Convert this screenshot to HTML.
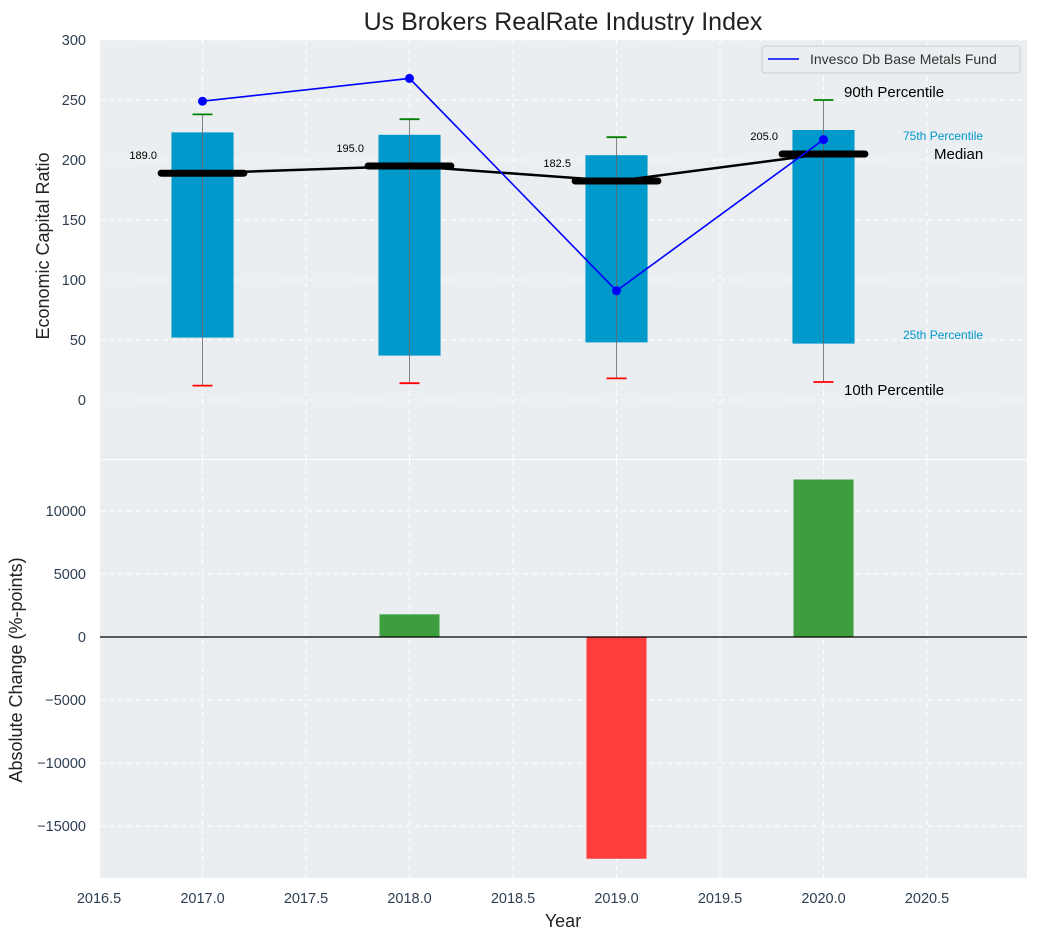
<!DOCTYPE html>
<html><head><meta charset="utf-8">
<style>
body{margin:0;background:#fff;font-family:"Liberation Sans",sans-serif;}
svg text{font-family:"Liberation Sans",sans-serif;}
</style></head>
<body>
<svg id="c" width="1038" height="940" xmlns="http://www.w3.org/2000/svg"></svg>
<script>
const years=[2017,2018,2019,2020];
const p10=[12,14,18,15];
const p25=[52,37,48,47];
const median=[189,195,182.5,205];
const p75=[223,221,204,225];
const p90=[238,234,219,250];
const fund=[249,268,91,217];
const changes=[0,1800,-17600,12500];
const xTicks=[2016.5,2017,2017.5,2018,2018.5,2019,2019.5,2020,2020.5];
const yTopTicks=[0,50,100,150,200,250,300];
const yBotTicks=[-15000,-10000,-5000,0,5000,10000];

const svg=document.getElementById('c');
const NS='http://www.w3.org/2000/svg';
function el(t,a,p){const e=document.createElementNS(NS,t);for(const k in a)e.setAttribute(k,a[k]);(p||svg).appendChild(e);return e;}
const L=100,R=1027,T1=40,B1=459,T2=460,B2=878;
const x=v=>202.5+(v-2017)*207;
const y1=v=>400-v*1.2;
const y2=v=>637-v*0.0126;
const BG='#eaeef0';

let p=el('rect',{x:L,y:T1,width:R-L,height:B1-T1,fill:BG});

p=el('rect',{x:L,y:T2,width:R-L,height:B2-T2,fill:BG});


xTicks.forEach(v=>{
 el('line',{x1:x(v),x2:x(v),y1:T1,y2:B1,stroke:'#fff','stroke-dasharray':'5,4','stroke-width':1});
 el('line',{x1:x(v),x2:x(v),y1:T2,y2:B2,stroke:'#fff','stroke-dasharray':'5,4','stroke-width':1});
 const t=el('text',{x:x(v),y:903,'text-anchor':'middle','font-size':14.5,fill:'#2d3e50'});t.textContent=v.toFixed(1);
 
});
yTopTicks.forEach(v=>{
 el('line',{x1:L,x2:R,y1:y1(v),y2:y1(v),stroke:'#fff','stroke-dasharray':'5,4','stroke-width':1});
 const t=el('text',{x:86,y:y1(v)+5,'text-anchor':'end','font-size':14.5,fill:'#2d3e50'});t.textContent=v;
 
});
yBotTicks.forEach(v=>{
 el('line',{x1:L,x2:R,y1:y2(v),y2:y2(v),stroke:'#fff','stroke-dasharray':'5,4','stroke-width':1});
 const t=el('text',{x:86,y:y2(v)+5,'text-anchor':'end','font-size':14.5,fill:'#2d3e50'});t.textContent=v<0?'\u2212'+(-v):v;
 
});

years.forEach((yr,i)=>{
 const b=el('rect',{x:x(yr-0.15),y:y1(p75[i]),width:x(yr+0.15)-x(yr-0.15),height:y1(p25[i])-y1(p75[i]),fill:'#0099cc'});
 
 el('line',{x1:x(yr),x2:x(yr),y1:y1(p90[i]),y2:y1(p10[i]),stroke:'#666','stroke-width':1,opacity:0.8});
 el('line',{x1:x(yr)-10,x2:x(yr)+10,y1:y1(p90[i]),y2:y1(p90[i]),stroke:'green','stroke-width':1.8});
 el('line',{x1:x(yr)-10,x2:x(yr)+10,y1:y1(p10[i]),y2:y1(p10[i]),stroke:'red','stroke-width':1.8});
});
el('polyline',{points:years.map((yr,i)=>x(yr)+','+y1(median[i])).join(' '),fill:'none',stroke:'#000','stroke-width':2.5});
years.forEach((yr,i)=>{
 const m=el('line',{x1:x(yr-0.2),x2:x(yr+0.2),y1:y1(median[i]),y2:y1(median[i]),stroke:'#000','stroke-width':7,'stroke-linecap':'round'});
 
 const t=el('text',{x:x(yr-0.22),y:y1(median[i])-14,'text-anchor':'end','font-size':11,fill:'#000'});t.textContent=median[i].toFixed(1);
 
});
const fl=el('polyline',{points:years.map((yr,i)=>x(yr)+','+y1(fund[i])).join(' '),fill:'none',stroke:'blue','stroke-width':1.6});

years.forEach((yr,i)=>{const c=el('circle',{cx:x(yr),cy:y1(fund[i]),r:4.5,fill:'blue'});
 });

function ann(tx,xx,yy,fs,col,name){const t=el('text',{x:xx,y:yy,'font-size':fs,fill:col});t.textContent=tx;}
ann('90th Percentile',844,97,15,'#000','p90-annotation');
ann('75th Percentile',903,140,12,'#0099cc','p75-annotation');
ann('Median',934,159,15,'#000','median-annotation');
ann('25th Percentile',903,339,12,'#0099cc','p25-annotation');
ann('10th Percentile',844,395,15,'#000','p10-annotation');

const lg=el('g',{});
el('rect',{x:762,y:46,width:258,height:27,rx:3,fill:'#eaeef0',stroke:'#ccc'},lg);
el('line',{x1:768,x2:799,y1:59,y2:59,stroke:'blue','stroke-width':1.6},lg);
const lt=el('text',{x:810,y:64,'font-size':14,fill:'#333'},lg);lt.textContent='Invesco Db Base Metals Fund';

years.forEach((yr,i)=>{
 const v=changes[i];
 const b=el('rect',{x:x(yr-0.145),y:Math.min(y2(v),y2(0)),width:x(yr+0.145)-x(yr-0.145),height:Math.abs(y2(v)-y2(0)),fill:v>=0?'#3d9e3d':'#ff3d3d'});
 
});
el('line',{x1:L,x2:R,y1:y2(0),y2:y2(0),stroke:'#000','stroke-width':1.2});

let t=el('text',{x:563,y:30,'text-anchor':'middle','font-size':25,fill:'#222'});t.textContent='Us Brokers RealRate Industry Index';

t=el('text',{x:563,y:927,'text-anchor':'middle','font-size':18,fill:'#222'});t.textContent='Year';

t=el('text',{x:0,y:0,'text-anchor':'middle','font-size':18,fill:'#222',transform:'translate(49,246) rotate(-90)'});t.textContent='Economic Capital Ratio';

t=el('text',{x:0,y:0,'text-anchor':'middle','font-size':18,fill:'#222',transform:'translate(22,670) rotate(-90)'});t.textContent='Absolute Change (%-points)';

</script>
</body></html>
